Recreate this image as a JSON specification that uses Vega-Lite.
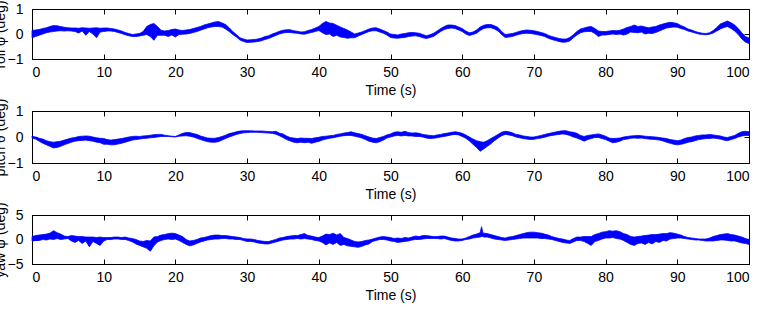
{
  "$schema": "https://vega.github.io/schema/vega-lite/v6.json",
  "background": "white",
  "padding": {"left": -8, "top": -1, "right": 0, "bottom": 0},
  "spacing": 52,
  "bounds": "flush",
  "config": {
    "view": {"stroke": "#000000", "strokeWidth": 1},
    "axis": {
      "grid": false,
      "labelFont": "Liberation Sans",
      "labelFontSize": 14,
      "labelColor": "#000000",
      "titleFont": "Liberation Sans",
      "titleFontSize": 14,
      "titleFontWeight": "normal",
      "titleColor": "#000000",
      "domainColor": "#000000",
      "tickColor": "#000000",
      "tickSize": -5,
      "format": "d"
    }
  },
  "datasets": {
    "roll": [
      {"t":0,"lo":-0.15,"hi":0.14},{"t":0.5,"lo":-0.1,"hi":0.16},{"t":1,"lo":-0.05,"hi":0.18},{"t":1.5,"lo":0,"hi":0.22},{"t":2,"lo":0.05,"hi":0.25},{"t":2.5,"lo":0.08,"hi":0.3},{"t":3,"lo":0.1,"hi":0.34},{"t":3.5,"lo":0.12,"hi":0.33},{"t":4,"lo":0.13,"hi":0.3},{"t":4.5,"lo":0.12,"hi":0.27},
      {"t":5,"lo":0.13,"hi":0.25},{"t":5.5,"lo":0.12,"hi":0.24},{"t":6,"lo":0.1,"hi":0.24},{"t":6.5,"lo":0.04,"hi":0.23},{"t":7,"lo":0.12,"hi":0.25},{"t":7.5,"lo":-0.05,"hi":0.24},{"t":8,"lo":0.1,"hi":0.23},{"t":8.5,"lo":0,"hi":0.24},{"t":9,"lo":-0.15,"hi":0.25},{"t":9.5,"lo":0.08,"hi":0.23},
      {"t":10,"lo":0.1,"hi":0.24},{"t":10.5,"lo":0.12,"hi":0.24},{"t":11,"lo":0.12,"hi":0.22},{"t":11.5,"lo":0.1,"hi":0.2},{"t":12,"lo":0.06,"hi":0.16},{"t":12.5,"lo":0.02,"hi":0.12},{"t":13,"lo":-0.03,"hi":0.06},{"t":13.5,"lo":-0.07,"hi":0.02},{"t":14,"lo":-0.1,"hi":-0.02},{"t":14.5,"lo":-0.1,"hi":0},
      {"t":15,"lo":-0.08,"hi":0.02},{"t":15.5,"lo":-0.05,"hi":0.1},{"t":16,"lo":-0.02,"hi":0.3},{"t":16.5,"lo":-0.1,"hi":0.38},{"t":17,"lo":-0.25,"hi":0.42},{"t":17.5,"lo":-0.05,"hi":0.3},{"t":18,"lo":-0.05,"hi":0.15},{"t":18.5,"lo":-0.05,"hi":0.12},{"t":19,"lo":-0.1,"hi":0.14},{"t":19.5,"lo":-0.04,"hi":0.18},
      {"t":20,"lo":-0.12,"hi":0.2},{"t":20.5,"lo":-0.02,"hi":0.16},{"t":21,"lo":-0.01,"hi":0.14},{"t":21.5,"lo":0,"hi":0.16},{"t":22,"lo":0.02,"hi":0.18},{"t":22.5,"lo":0.06,"hi":0.22},{"t":23,"lo":0.1,"hi":0.26},{"t":23.5,"lo":0.15,"hi":0.3},{"t":24,"lo":0.2,"hi":0.36},{"t":24.5,"lo":0.25,"hi":0.4},
      {"t":25,"lo":0.28,"hi":0.44},{"t":25.5,"lo":0.3,"hi":0.48},{"t":26,"lo":0.3,"hi":0.5},{"t":26.5,"lo":0.28,"hi":0.44},{"t":27,"lo":0.2,"hi":0.38},{"t":27.5,"lo":0.1,"hi":0.25},{"t":28,"lo":-0.02,"hi":0.1},{"t":28.5,"lo":-0.12,"hi":-0.02},{"t":29,"lo":-0.24,"hi":-0.15},{"t":29.5,"lo":-0.3,"hi":-0.2},
      {"t":30,"lo":-0.34,"hi":-0.24},{"t":30.5,"lo":-0.33,"hi":-0.23},{"t":31,"lo":-0.32,"hi":-0.22},{"t":31.5,"lo":-0.3,"hi":-0.2},{"t":32,"lo":-0.27,"hi":-0.16},{"t":32.5,"lo":-0.22,"hi":-0.1},{"t":33,"lo":-0.18,"hi":-0.07},{"t":33.5,"lo":-0.12,"hi":0},{"t":34,"lo":-0.06,"hi":0.05},{"t":34.5,"lo":0,"hi":0.11},
      {"t":35,"lo":0.04,"hi":0.15},{"t":35.5,"lo":0.06,"hi":0.17},{"t":36,"lo":0.06,"hi":0.17},{"t":36.5,"lo":0.04,"hi":0.13},{"t":37,"lo":0.03,"hi":0.11},{"t":37.5,"lo":0,"hi":0.08},{"t":38,"lo":-0.01,"hi":0.09},{"t":38.5,"lo":0.03,"hi":0.14},{"t":39,"lo":0.06,"hi":0.18},{"t":39.5,"lo":0.1,"hi":0.24},
      {"t":40,"lo":0.14,"hi":0.3},{"t":40.5,"lo":0.05,"hi":0.42},{"t":41,"lo":-0.02,"hi":0.5},{"t":41.5,"lo":0,"hi":0.44},{"t":42,"lo":-0.1,"hi":0.42},{"t":42.5,"lo":-0.05,"hi":0.35},{"t":43,"lo":-0.12,"hi":0.28},{"t":43.5,"lo":-0.14,"hi":0.22},{"t":44,"lo":-0.17,"hi":0.16},{"t":44.5,"lo":-0.15,"hi":0.08},
      {"t":45,"lo":-0.15,"hi":0},{"t":45.5,"lo":-0.08,"hi":0.04},{"t":46,"lo":-0.02,"hi":0.08},{"t":46.5,"lo":0.04,"hi":0.14},{"t":47,"lo":0.1,"hi":0.2},{"t":47.5,"lo":0.13,"hi":0.24},{"t":48,"lo":0.13,"hi":0.25},{"t":48.5,"lo":0.08,"hi":0.2},{"t":49,"lo":0.03,"hi":0.14},{"t":49.5,"lo":-0.04,"hi":0.08},
      {"t":50,"lo":-0.14,"hi":0},{"t":50.5,"lo":-0.16,"hi":-0.02},{"t":51,"lo":-0.17,"hi":-0.04},{"t":51.5,"lo":-0.15,"hi":0},{"t":52,"lo":-0.14,"hi":0.02},{"t":52.5,"lo":-0.1,"hi":0.05},{"t":53,"lo":-0.08,"hi":0.06},{"t":53.5,"lo":-0.07,"hi":0.05},{"t":54,"lo":-0.1,"hi":0.03},{"t":54.5,"lo":-0.15,"hi":-0.02},
      {"t":55,"lo":-0.18,"hi":-0.07},{"t":55.5,"lo":-0.14,"hi":-0.03},{"t":56,"lo":-0.1,"hi":0.03},{"t":56.5,"lo":0,"hi":0.12},{"t":57,"lo":0.1,"hi":0.22},{"t":57.5,"lo":0.18,"hi":0.3},{"t":58,"lo":0.22,"hi":0.36},{"t":58.5,"lo":0.24,"hi":0.36},{"t":59,"lo":0.22,"hi":0.34},{"t":59.5,"lo":0.16,"hi":0.28},
      {"t":60,"lo":0.1,"hi":0.22},{"t":60.5,"lo":0,"hi":0.12},{"t":61,"lo":-0.06,"hi":0.05},{"t":61.5,"lo":-0.02,"hi":0.08},{"t":62,"lo":0.03,"hi":0.16},{"t":62.5,"lo":0.14,"hi":0.28},{"t":63,"lo":0.22,"hi":0.35},{"t":63.5,"lo":0.25,"hi":0.38},{"t":64,"lo":0.25,"hi":0.38},{"t":64.5,"lo":0.2,"hi":0.33},
      {"t":65,"lo":0.12,"hi":0.26},{"t":65.5,"lo":-0.02,"hi":0.1},{"t":66,"lo":-0.14,"hi":-0.02},{"t":66.5,"lo":-0.12,"hi":0},{"t":67,"lo":-0.1,"hi":0.02},{"t":67.5,"lo":-0.05,"hi":0.06},{"t":68,"lo":-0.01,"hi":0.11},{"t":68.5,"lo":0.02,"hi":0.14},{"t":69,"lo":0.03,"hi":0.16},{"t":69.5,"lo":0.02,"hi":0.15},
      {"t":70,"lo":0,"hi":0.13},{"t":70.5,"lo":-0.03,"hi":0.1},{"t":71,"lo":-0.06,"hi":0.06},{"t":71.5,"lo":-0.1,"hi":0.02},{"t":72,"lo":-0.17,"hi":-0.05},{"t":72.5,"lo":-0.22,"hi":-0.1},{"t":73,"lo":-0.26,"hi":-0.14},{"t":73.5,"lo":-0.3,"hi":-0.18},{"t":74,"lo":-0.33,"hi":-0.2},{"t":74.5,"lo":-0.32,"hi":-0.2},
      {"t":75,"lo":-0.28,"hi":-0.14},{"t":75.5,"lo":-0.15,"hi":-0.03},{"t":76,"lo":-0.04,"hi":0.1},{"t":76.5,"lo":0.05,"hi":0.2},{"t":77,"lo":0.09,"hi":0.24},{"t":77.5,"lo":0.1,"hi":0.28},{"t":78,"lo":0.1,"hi":0.3},{"t":78.5,"lo":0.02,"hi":0.22},{"t":79,"lo":-0.1,"hi":0.12},{"t":79.5,"lo":-0.04,"hi":0.1},
      {"t":80,"lo":-0.04,"hi":0.1},{"t":80.5,"lo":-0.02,"hi":0.12},{"t":81,"lo":0,"hi":0.14},{"t":81.5,"lo":-0.02,"hi":0.13},{"t":82,"lo":0,"hi":0.15},{"t":82.5,"lo":-0.04,"hi":0.2},{"t":83,"lo":0,"hi":0.26},{"t":83.5,"lo":0.08,"hi":0.3},{"t":84,"lo":0.06,"hi":0.36},{"t":84.5,"lo":0.05,"hi":0.3},
      {"t":85,"lo":0.08,"hi":0.32},{"t":85.5,"lo":0,"hi":0.28},{"t":86,"lo":0.03,"hi":0.25},{"t":86.5,"lo":0.02,"hi":0.28},{"t":87,"lo":0.06,"hi":0.3},{"t":87.5,"lo":0.12,"hi":0.36},{"t":88,"lo":0.18,"hi":0.4},{"t":88.5,"lo":0.24,"hi":0.44},{"t":89,"lo":0.26,"hi":0.47},{"t":89.5,"lo":0.28,"hi":0.45},
      {"t":90,"lo":0.27,"hi":0.42},{"t":90.5,"lo":0.22,"hi":0.34},{"t":91,"lo":0.18,"hi":0.28},{"t":91.5,"lo":0.12,"hi":0.2},{"t":92,"lo":0.08,"hi":0.16},{"t":92.5,"lo":0.04,"hi":0.1},{"t":93,"lo":0,"hi":0.06},{"t":93.5,"lo":-0.02,"hi":0.03},{"t":94,"lo":-0.03,"hi":0.02},{"t":94.5,"lo":-0.01,"hi":0.05},
      {"t":95,"lo":0.04,"hi":0.14},{"t":95.5,"lo":0.12,"hi":0.26},{"t":96,"lo":0.2,"hi":0.4},{"t":96.5,"lo":0.26,"hi":0.46},{"t":97,"lo":0.3,"hi":0.52},{"t":97.5,"lo":0.22,"hi":0.45},{"t":98,"lo":0.12,"hi":0.36},{"t":98.5,"lo":-0.02,"hi":0.22},{"t":99,"lo":-0.2,"hi":0.05},{"t":99.5,"lo":-0.32,"hi":-0.1},
      {"t":100,"lo":-0.38,"hi":-0.16}
    ],
    "pitch": [
      {"t":0,"lo":-0.04,"hi":0.03},{"t":0.5,"lo":-0.08,"hi":0},{"t":1,"lo":-0.16,"hi":-0.05},{"t":1.5,"lo":-0.24,"hi":-0.08},{"t":2,"lo":-0.3,"hi":-0.14},{"t":2.5,"lo":-0.36,"hi":-0.18},{"t":3,"lo":-0.42,"hi":-0.2},{"t":3.5,"lo":-0.4,"hi":-0.18},{"t":4,"lo":-0.36,"hi":-0.16},{"t":4.5,"lo":-0.3,"hi":-0.12},
      {"t":5,"lo":-0.25,"hi":-0.08},{"t":5.5,"lo":-0.2,"hi":-0.04},{"t":6,"lo":-0.16,"hi":-0.02},{"t":6.5,"lo":-0.14,"hi":0.02},{"t":7,"lo":-0.13,"hi":0.03},{"t":7.5,"lo":-0.12,"hi":0.04},{"t":8,"lo":-0.14,"hi":0.03},{"t":8.5,"lo":-0.16,"hi":0},{"t":9,"lo":-0.2,"hi":-0.03},{"t":9.5,"lo":-0.22,"hi":-0.05},
      {"t":10,"lo":-0.28,"hi":-0.06},{"t":10.5,"lo":-0.28,"hi":-0.1},{"t":11,"lo":-0.3,"hi":-0.12},{"t":11.5,"lo":-0.3,"hi":-0.1},{"t":12,"lo":-0.27,"hi":-0.08},{"t":12.5,"lo":-0.24,"hi":-0.06},{"t":13,"lo":-0.2,"hi":-0.03},{"t":13.5,"lo":-0.16,"hi":0},{"t":14,"lo":-0.12,"hi":0.02},{"t":14.5,"lo":-0.1,"hi":0.03},
      {"t":15,"lo":-0.08,"hi":0.02},{"t":15.5,"lo":-0.06,"hi":0.04},{"t":16,"lo":-0.05,"hi":0.05},{"t":16.5,"lo":-0.03,"hi":0.07},{"t":17,"lo":-0.02,"hi":0.09},{"t":17.5,"lo":0,"hi":0.1},{"t":18,"lo":0.02,"hi":0.1},{"t":18.5,"lo":0.02,"hi":0.07},{"t":19,"lo":0.02,"hi":0.05},{"t":19.5,"lo":0.01,"hi":0.03},
      {"t":20,"lo":0,"hi":0.02},{"t":20.5,"lo":0.03,"hi":0.08},{"t":21,"lo":0.04,"hi":0.14},{"t":21.5,"lo":0.05,"hi":0.17},{"t":22,"lo":0.03,"hi":0.17},{"t":22.5,"lo":0,"hi":0.13},{"t":23,"lo":-0.05,"hi":0.1},{"t":23.5,"lo":-0.1,"hi":0.04},{"t":24,"lo":-0.14,"hi":0},{"t":24.5,"lo":-0.18,"hi":-0.04},
      {"t":25,"lo":-0.2,"hi":-0.05},{"t":25.5,"lo":-0.2,"hi":-0.05},{"t":26,"lo":-0.18,"hi":-0.02},{"t":26.5,"lo":-0.12,"hi":0.02},{"t":27,"lo":-0.06,"hi":0.07},{"t":27.5,"lo":0,"hi":0.13},{"t":28,"lo":0.05,"hi":0.16},{"t":28.5,"lo":0.1,"hi":0.2},{"t":29,"lo":0.13,"hi":0.23},{"t":29.5,"lo":0.16,"hi":0.24},
      {"t":30,"lo":0.17,"hi":0.24},{"t":30.5,"lo":0.18,"hi":0.24},{"t":31,"lo":0.18,"hi":0.23},{"t":31.5,"lo":0.18,"hi":0.23},{"t":32,"lo":0.17,"hi":0.23},{"t":32.5,"lo":0.16,"hi":0.22},{"t":33,"lo":0.15,"hi":0.21},{"t":33.5,"lo":0.14,"hi":0.2},{"t":34,"lo":0.11,"hi":0.22},{"t":34.5,"lo":0.05,"hi":0.15},
      {"t":35,"lo":-0.02,"hi":0.12},{"t":35.5,"lo":-0.1,"hi":0.04},{"t":36,"lo":-0.15,"hi":-0.02},{"t":36.5,"lo":-0.2,"hi":-0.04},{"t":37,"lo":-0.22,"hi":-0.06},{"t":37.5,"lo":-0.2,"hi":-0.04},{"t":38,"lo":-0.22,"hi":-0.05},{"t":38.5,"lo":-0.2,"hi":-0.05},{"t":39,"lo":-0.24,"hi":-0.06},{"t":39.5,"lo":-0.2,"hi":-0.03},
      {"t":40,"lo":-0.17,"hi":-0.01},{"t":40.5,"lo":-0.12,"hi":0.02},{"t":41,"lo":-0.08,"hi":0.03},{"t":41.5,"lo":-0.05,"hi":0.05},{"t":42,"lo":-0.03,"hi":0.06},{"t":42.5,"lo":0,"hi":0.1},{"t":43,"lo":0.03,"hi":0.12},{"t":43.5,"lo":0.05,"hi":0.15},{"t":44,"lo":0.06,"hi":0.17},{"t":44.5,"lo":0.06,"hi":0.2},
      {"t":45,"lo":0.03,"hi":0.16},{"t":45.5,"lo":0,"hi":0.13},{"t":46,"lo":-0.04,"hi":0.1},{"t":46.5,"lo":-0.1,"hi":0.05},{"t":47,"lo":-0.16,"hi":0},{"t":47.5,"lo":-0.2,"hi":-0.04},{"t":48,"lo":-0.22,"hi":-0.06},{"t":48.5,"lo":-0.18,"hi":-0.02},{"t":49,"lo":-0.12,"hi":0.02},{"t":49.5,"lo":-0.04,"hi":0.08},
      {"t":50,"lo":0,"hi":0.12},{"t":50.5,"lo":0.04,"hi":0.18},{"t":51,"lo":0.06,"hi":0.2},{"t":51.5,"lo":0.04,"hi":0.18},{"t":52,"lo":0.06,"hi":0.22},{"t":52.5,"lo":0.04,"hi":0.17},{"t":53,"lo":0.04,"hi":0.15},{"t":53.5,"lo":0.02,"hi":0.16},{"t":54,"lo":0.02,"hi":0.14},{"t":54.5,"lo":0,"hi":0.1},
      {"t":55,"lo":-0.04,"hi":0.08},{"t":55.5,"lo":-0.06,"hi":0.06},{"t":56,"lo":-0.05,"hi":0.05},{"t":56.5,"lo":-0.03,"hi":0.08},{"t":57,"lo":0,"hi":0.1},{"t":57.5,"lo":0.02,"hi":0.13},{"t":58,"lo":0.05,"hi":0.15},{"t":58.5,"lo":0.08,"hi":0.18},{"t":59,"lo":0.1,"hi":0.2},{"t":59.5,"lo":0.08,"hi":0.18},
      {"t":60,"lo":0.02,"hi":0.14},{"t":60.5,"lo":-0.05,"hi":0.08},{"t":61,"lo":-0.15,"hi":0},{"t":61.5,"lo":-0.28,"hi":-0.08},{"t":62,"lo":-0.4,"hi":-0.14},{"t":62.5,"lo":-0.55,"hi":-0.18},{"t":63,"lo":-0.46,"hi":-0.2},{"t":63.5,"lo":-0.36,"hi":-0.14},{"t":64,"lo":-0.26,"hi":-0.06},{"t":64.5,"lo":-0.14,"hi":0.02},
      {"t":65,"lo":-0.04,"hi":0.1},{"t":65.5,"lo":0.05,"hi":0.18},{"t":66,"lo":0.1,"hi":0.22},{"t":66.5,"lo":0.08,"hi":0.2},{"t":67,"lo":0.05,"hi":0.16},{"t":67.5,"lo":0,"hi":0.1},{"t":68,"lo":-0.03,"hi":0.08},{"t":68.5,"lo":-0.06,"hi":0.04},{"t":69,"lo":-0.08,"hi":0.02},{"t":69.5,"lo":-0.1,"hi":0},
      {"t":70,"lo":-0.09,"hi":0},{"t":70.5,"lo":-0.06,"hi":0.03},{"t":71,"lo":-0.04,"hi":0.06},{"t":71.5,"lo":-0.01,"hi":0.1},{"t":72,"lo":0.03,"hi":0.13},{"t":72.5,"lo":0.06,"hi":0.16},{"t":73,"lo":0.08,"hi":0.19},{"t":73.5,"lo":0.1,"hi":0.22},{"t":74,"lo":0.12,"hi":0.24},{"t":74.5,"lo":0.1,"hi":0.24},
      {"t":75,"lo":0.06,"hi":0.2},{"t":75.5,"lo":0,"hi":0.18},{"t":76,"lo":-0.04,"hi":0.14},{"t":76.5,"lo":-0.1,"hi":0.06},{"t":77,"lo":-0.16,"hi":0.02},{"t":77.5,"lo":-0.1,"hi":0.06},{"t":78,"lo":-0.06,"hi":0.08},{"t":78.5,"lo":-0.02,"hi":0.1},{"t":79,"lo":-0.02,"hi":0.12},{"t":79.5,"lo":-0.06,"hi":0.08},
      {"t":80,"lo":-0.1,"hi":0.03},{"t":80.5,"lo":-0.16,"hi":-0.04},{"t":81,"lo":-0.22,"hi":-0.06},{"t":81.5,"lo":-0.2,"hi":-0.05},{"t":82,"lo":-0.16,"hi":-0.04},{"t":82.5,"lo":-0.1,"hi":0},{"t":83,"lo":-0.08,"hi":0.02},{"t":83.5,"lo":-0.05,"hi":0.04},{"t":84,"lo":-0.04,"hi":0.05},{"t":84.5,"lo":-0.05,"hi":0.06},
      {"t":85,"lo":-0.04,"hi":0.05},{"t":85.5,"lo":-0.06,"hi":0.03},{"t":86,"lo":-0.08,"hi":0.02},{"t":86.5,"lo":-0.09,"hi":0.01},{"t":87,"lo":-0.1,"hi":0},{"t":87.5,"lo":-0.12,"hi":-0.02},{"t":88,"lo":-0.15,"hi":-0.04},{"t":88.5,"lo":-0.2,"hi":-0.06},{"t":89,"lo":-0.24,"hi":-0.1},{"t":89.5,"lo":-0.28,"hi":-0.12},
      {"t":90,"lo":-0.3,"hi":-0.14},{"t":90.5,"lo":-0.28,"hi":-0.12},{"t":91,"lo":-0.25,"hi":-0.06},{"t":91.5,"lo":-0.2,"hi":-0.02},{"t":92,"lo":-0.18,"hi":0},{"t":92.5,"lo":-0.14,"hi":0.04},{"t":93,"lo":-0.1,"hi":0.06},{"t":93.5,"lo":-0.08,"hi":0.08},{"t":94,"lo":-0.06,"hi":0.08},{"t":94.5,"lo":-0.06,"hi":0.1},
      {"t":95,"lo":-0.04,"hi":0.08},{"t":95.5,"lo":-0.06,"hi":0.06},{"t":96,"lo":-0.08,"hi":0.04},{"t":96.5,"lo":-0.12,"hi":0},{"t":97,"lo":-0.14,"hi":-0.02},{"t":97.5,"lo":-0.1,"hi":0.02},{"t":98,"lo":-0.06,"hi":0.06},{"t":98.5,"lo":0,"hi":0.14},{"t":99,"lo":0.04,"hi":0.2},{"t":99.5,"lo":0.06,"hi":0.22},
      {"t":100,"lo":0.06,"hi":0.2}
    ],
    "yaw": [
      {"t":0,"lo":-0.3,"hi":0.6},{"t":0.5,"lo":-0.2,"hi":0.8},{"t":1,"lo":-0.2,"hi":0.9},{"t":1.5,"lo":0,"hi":1},{"t":2,"lo":-0.1,"hi":1.1},{"t":2.5,"lo":0.1,"hi":1.3},{"t":3,"lo":0,"hi":1.8},{"t":3.5,"lo":0.2,"hi":1.4},{"t":4,"lo":0,"hi":1.1},{"t":4.5,"lo":0.1,"hi":0.7},
      {"t":5,"lo":0.2,"hi":0.6},{"t":5.5,"lo":-0.3,"hi":0.8},{"t":6,"lo":-0.6,"hi":0.7},{"t":6.5,"lo":-0.2,"hi":0.6},{"t":7,"lo":-0.8,"hi":0.6},{"t":7.5,"lo":-0.3,"hi":0.5},{"t":8,"lo":-1.5,"hi":0.5},{"t":8.5,"lo":-0.4,"hi":0.5},{"t":9,"lo":-0.8,"hi":0.4},{"t":9.5,"lo":-1.2,"hi":0.5},
      {"t":10,"lo":-0.3,"hi":0.4},{"t":10.5,"lo":0,"hi":0.4},{"t":11,"lo":0,"hi":0.4},{"t":11.5,"lo":0.1,"hi":0.5},{"t":12,"lo":0.1,"hi":0.5},{"t":12.5,"lo":0,"hi":0.4},{"t":13,"lo":0,"hi":0.5},{"t":13.5,"lo":-0.2,"hi":0.3},{"t":14,"lo":-0.5,"hi":0.2},{"t":14.5,"lo":-0.9,"hi":0},
      {"t":15,"lo":-1.2,"hi":-0.3},{"t":15.5,"lo":-1.5,"hi":-0.4},{"t":16,"lo":-1.8,"hi":-0.2},{"t":16.5,"lo":-2.4,"hi":-0.3},{"t":17,"lo":-1.3,"hi":0.5},{"t":17.5,"lo":-0.5,"hi":0.6},{"t":18,"lo":-0.2,"hi":0.9},{"t":18.5,"lo":0,"hi":1},{"t":19,"lo":0.1,"hi":1.2},{"t":19.5,"lo":0,"hi":1.3},
      {"t":20,"lo":0.1,"hi":1.2},{"t":20.5,"lo":-0.2,"hi":0.9},{"t":21,"lo":-0.6,"hi":0.6},{"t":21.5,"lo":-1,"hi":0},{"t":22,"lo":-1.3,"hi":-0.3},{"t":22.5,"lo":-1.1,"hi":-0.2},{"t":23,"lo":-0.8,"hi":0},{"t":23.5,"lo":-0.5,"hi":0.3},{"t":24,"lo":-0.3,"hi":0.4},{"t":24.5,"lo":-0.1,"hi":0.6},
      {"t":25,"lo":0,"hi":0.8},{"t":25.5,"lo":0.1,"hi":0.9},{"t":26,"lo":0.1,"hi":0.9},{"t":26.5,"lo":0.2,"hi":0.8},{"t":27,"lo":0.2,"hi":0.8},{"t":27.5,"lo":0.1,"hi":0.7},{"t":28,"lo":0.1,"hi":0.6},{"t":28.5,"lo":0,"hi":0.5},{"t":29,"lo":0,"hi":0.4},{"t":29.5,"lo":-0.2,"hi":0.2},
      {"t":30,"lo":-0.4,"hi":0.1},{"t":30.5,"lo":-0.4,"hi":0.1},{"t":31,"lo":-0.5,"hi":0},{"t":31.5,"lo":-0.7,"hi":-0.2},{"t":32,"lo":-0.8,"hi":-0.3},{"t":32.5,"lo":-0.9,"hi":-0.4},{"t":33,"lo":-0.9,"hi":-0.4},{"t":33.5,"lo":-0.7,"hi":-0.2},{"t":34,"lo":-0.5,"hi":0},{"t":34.5,"lo":-0.3,"hi":0.3},
      {"t":35,"lo":-0.1,"hi":0.4},{"t":35.5,"lo":0,"hi":0.6},{"t":36,"lo":0.1,"hi":0.7},{"t":36.5,"lo":0.1,"hi":0.8},{"t":37,"lo":0.2,"hi":0.8},{"t":37.5,"lo":0.1,"hi":1},{"t":38,"lo":0.2,"hi":1.2},{"t":38.5,"lo":0.1,"hi":0.8},{"t":39,"lo":0,"hi":0.7},{"t":39.5,"lo":-0.2,"hi":0.5},
      {"t":40,"lo":-0.3,"hi":0.4},{"t":40.5,"lo":-0.6,"hi":0.7},{"t":41,"lo":-1.1,"hi":1.1},{"t":41.5,"lo":-0.7,"hi":1},{"t":42,"lo":-1,"hi":1.3},{"t":42.5,"lo":-0.6,"hi":0.9},{"t":43,"lo":-1.2,"hi":1.2},{"t":43.5,"lo":-1,"hi":0.4},{"t":44,"lo":-1.3,"hi":0.2},{"t":44.5,"lo":-1.4,"hi":-0.1},
      {"t":45,"lo":-1.5,"hi":-0.4},{"t":45.5,"lo":-1.6,"hi":-0.5},{"t":46,"lo":-1.4,"hi":-0.4},{"t":46.5,"lo":-1.1,"hi":-0.2},{"t":47,"lo":-0.9,"hi":-0.1},{"t":47.5,"lo":-0.4,"hi":0.1},{"t":48,"lo":-0.2,"hi":0.3},{"t":48.5,"lo":0,"hi":0.5},{"t":49,"lo":0,"hi":0.6},{"t":49.5,"lo":-0.1,"hi":0.5},
      {"t":50,"lo":-0.3,"hi":0.4},{"t":50.5,"lo":-0.4,"hi":0.2},{"t":51,"lo":-0.6,"hi":0.3},{"t":51.5,"lo":-0.5,"hi":0.2},{"t":52,"lo":-0.4,"hi":0.4},{"t":52.5,"lo":-0.3,"hi":0.3},{"t":53,"lo":-0.1,"hi":0.5},{"t":53.5,"lo":0,"hi":0.7},{"t":54,"lo":0,"hi":0.6},{"t":54.5,"lo":0.1,"hi":0.8},
      {"t":55,"lo":0.2,"hi":0.8},{"t":55.5,"lo":0.2,"hi":0.7},{"t":56,"lo":0.2,"hi":0.6},{"t":56.5,"lo":0.2,"hi":0.6},{"t":57,"lo":0.1,"hi":0.7},{"t":57.5,"lo":0.2,"hi":0.7},{"t":58,"lo":0,"hi":0.5},{"t":58.5,"lo":-0.2,"hi":0.3},{"t":59,"lo":-0.3,"hi":0.2},{"t":59.5,"lo":-0.3,"hi":0.1},
      {"t":60,"lo":-0.2,"hi":0.1},{"t":60.5,"lo":0,"hi":0.3},{"t":61,"lo":0.1,"hi":0.6},{"t":61.5,"lo":0.3,"hi":0.9},{"t":62,"lo":0.4,"hi":1.1},{"t":62.5,"lo":0.5,"hi":1.4},{"t":62.7,"lo":0.6,"hi":2.6},{"t":62.9,"lo":0.6,"hi":1.3},{"t":63,"lo":0.5,"hi":1.3},{"t":63.5,"lo":0.5,"hi":1.2},{"t":64,"lo":0.3,"hi":1},{"t":64.5,"lo":0.1,"hi":0.8},
      {"t":65,"lo":0,"hi":0.6},{"t":65.5,"lo":-0.1,"hi":0.4},{"t":66,"lo":-0.2,"hi":0.3},{"t":66.5,"lo":-0.1,"hi":0.5},{"t":67,"lo":0,"hi":0.6},{"t":67.5,"lo":0.1,"hi":0.8},{"t":68,"lo":0.2,"hi":1},{"t":68.5,"lo":0.3,"hi":1.2},{"t":69,"lo":0.3,"hi":1.4},{"t":69.5,"lo":0.3,"hi":1.5},
      {"t":70,"lo":0.3,"hi":1.5},{"t":70.5,"lo":0.3,"hi":1.4},{"t":71,"lo":0.2,"hi":1.3},{"t":71.5,"lo":0.2,"hi":1.1},{"t":72,"lo":0.1,"hi":0.9},{"t":72.5,"lo":0,"hi":0.6},{"t":73,"lo":-0.2,"hi":0.4},{"t":73.5,"lo":-0.4,"hi":0.2},{"t":74,"lo":-0.6,"hi":0.1},{"t":74.5,"lo":-0.7,"hi":-0.1},
      {"t":75,"lo":-0.8,"hi":-0.2},{"t":75.5,"lo":-0.5,"hi":0.2},{"t":76,"lo":-0.2,"hi":0.5},{"t":76.5,"lo":-0.2,"hi":0.5},{"t":77,"lo":-0.4,"hi":0.6},{"t":77.5,"lo":-0.8,"hi":0.6},{"t":78,"lo":-1.2,"hi":0.6},{"t":78.5,"lo":-0.4,"hi":1},{"t":79,"lo":-0.2,"hi":1.2},{"t":79.5,"lo":0.1,"hi":1.5},
      {"t":80,"lo":0.3,"hi":1.6},{"t":80.5,"lo":0.3,"hi":1.8},{"t":81,"lo":0.4,"hi":1.7},{"t":81.5,"lo":0.2,"hi":1.8},{"t":82,"lo":0.1,"hi":1.6},{"t":82.5,"lo":-0.2,"hi":1.2},{"t":83,"lo":-0.6,"hi":1},{"t":83.5,"lo":-1,"hi":0.6},{"t":84,"lo":-1.2,"hi":0.5},{"t":84.5,"lo":-0.8,"hi":0.6},
      {"t":85,"lo":-0.7,"hi":0.7},{"t":85.5,"lo":-1,"hi":0.8},{"t":86,"lo":-0.6,"hi":0.9},{"t":86.5,"lo":-0.9,"hi":1},{"t":87,"lo":-0.4,"hi":1},{"t":87.5,"lo":-0.6,"hi":1.1},{"t":88,"lo":-0.2,"hi":1.2},{"t":88.5,"lo":-0.3,"hi":1.2},{"t":89,"lo":0.1,"hi":1.4},{"t":89.5,"lo":0.2,"hi":1.3},
      {"t":90,"lo":0.3,"hi":1.1},{"t":90.5,"lo":0.3,"hi":0.9},{"t":91,"lo":0.2,"hi":0.6},{"t":91.5,"lo":0.1,"hi":0.4},{"t":92,"lo":0,"hi":0.3},{"t":92.5,"lo":-0.1,"hi":0.2},{"t":93,"lo":-0.1,"hi":0.1},{"t":93.5,"lo":-0.2,"hi":0.1},{"t":94,"lo":-0.3,"hi":0.1},{"t":94.5,"lo":-0.3,"hi":0.3},
      {"t":95,"lo":-0.3,"hi":0.6},{"t":95.5,"lo":-0.2,"hi":0.8},{"t":96,"lo":-0.1,"hi":1},{"t":96.5,"lo":-0.1,"hi":1.1},{"t":97,"lo":-0.2,"hi":1.2},{"t":97.5,"lo":-0.3,"hi":1},{"t":98,"lo":-0.3,"hi":0.9},{"t":98.5,"lo":-0.5,"hi":0.7},{"t":99,"lo":-0.7,"hi":0.5},{"t":99.5,"lo":-0.8,"hi":0.2},
      {"t":100,"lo":-1,"hi":0}
    ]
  },
  "vconcat": [
    {
      "width": 717,
      "height": 50,
      "data": {"name": "roll"},
      "layer": [
        {
          "mark": {"type": "area", "color": "#0000ff", "stroke": "#0000ff", "strokeWidth": 0.8, "opacity": 1},
          "encoding": {
            "x": {"field": "t", "type": "quantitative", "scale": {"domain": [0, 100], "nice": false},
                  "axis": {"orient": "bottom", "title": "Time (s)", "values": [0,10,20,30,40,50,60,70,80,90,100], "labelPadding": 11, "titlePadding": 4}},
            "y": {"field": "lo", "type": "quantitative", "scale": {"domain": [-1, 1], "nice": false},
                  "axis": {"orient": "left", "title": "roll φ (deg)", "values": [-1, 0, 1], "labelPadding": 14, "titleX": -25}},
            "y2": {"field": "hi"}
          }
        },
        {
          "mark": {"type": "area", "opacity": 0},
          "encoding": {
            "x": {"field": "t", "type": "quantitative", "axis": {"orient": "top", "labels": false, "title": null, "domain": false, "values": [0,10,20,30,40,50,60,70,80,90,100]}},
            "y": {"field": "lo", "type": "quantitative", "axis": {"orient": "right", "labels": false, "title": null, "domain": false, "values": [-1, 0, 1]}},
            "y2": {"field": "hi"}
          }
        }
      ],
      "resolve": {"axis": {"x": "independent", "y": "independent"}}
    },
    {
      "width": 717,
      "height": 52,
      "data": {"name": "pitch"},
      "layer": [
        {
          "mark": {"type": "area", "color": "#0000ff", "stroke": "#0000ff", "strokeWidth": 0.8, "opacity": 1},
          "encoding": {
            "x": {"field": "t", "type": "quantitative", "scale": {"domain": [0, 100], "nice": false},
                  "axis": {"orient": "bottom", "title": "Time (s)", "values": [0,10,20,30,40,50,60,70,80,90,100], "labelPadding": 11, "titlePadding": 4}},
            "y": {"field": "lo", "type": "quantitative", "scale": {"domain": [-1, 1], "nice": false},
                  "axis": {"orient": "left", "title": "pitch θ (deg)", "values": [-1, 0, 1], "labelPadding": 14, "titleX": -25}},
            "y2": {"field": "hi"}
          }
        },
        {
          "mark": {"type": "area", "opacity": 0},
          "encoding": {
            "x": {"field": "t", "type": "quantitative", "axis": {"orient": "top", "labels": false, "title": null, "domain": false, "values": [0,10,20,30,40,50,60,70,80,90,100]}},
            "y": {"field": "lo", "type": "quantitative", "axis": {"orient": "right", "labels": false, "title": null, "domain": false, "values": [-1, 0, 1]}},
            "y2": {"field": "hi"}
          }
        }
      ],
      "resolve": {"axis": {"x": "independent", "y": "independent"}}
    },
    {
      "width": 717,
      "height": 49,
      "data": {"name": "yaw"},
      "layer": [
        {
          "mark": {"type": "area", "color": "#0000ff", "stroke": "#0000ff", "strokeWidth": 0.8, "opacity": 1},
          "encoding": {
            "x": {"field": "t", "type": "quantitative", "scale": {"domain": [0, 100], "nice": false},
                  "axis": {"orient": "bottom", "title": "Time (s)", "values": [0,10,20,30,40,50,60,70,80,90,100], "labelPadding": 11, "titlePadding": 4}},
            "y": {"field": "lo", "type": "quantitative", "scale": {"domain": [-5, 5], "nice": false},
                  "axis": {"orient": "left", "title": "yaw ψ (deg)", "values": [-5, 0, 5], "labelPadding": 14, "titleX": -25}},
            "y2": {"field": "hi"}
          }
        },
        {
          "mark": {"type": "area", "opacity": 0},
          "encoding": {
            "x": {"field": "t", "type": "quantitative", "axis": {"orient": "top", "labels": false, "title": null, "domain": false, "values": [0,10,20,30,40,50,60,70,80,90,100]}},
            "y": {"field": "lo", "type": "quantitative", "axis": {"orient": "right", "labels": false, "title": null, "domain": false, "values": [-5, 0, 5]}},
            "y2": {"field": "hi"}
          }
        }
      ],
      "resolve": {"axis": {"x": "independent", "y": "independent"}}
    }
  ]
}
